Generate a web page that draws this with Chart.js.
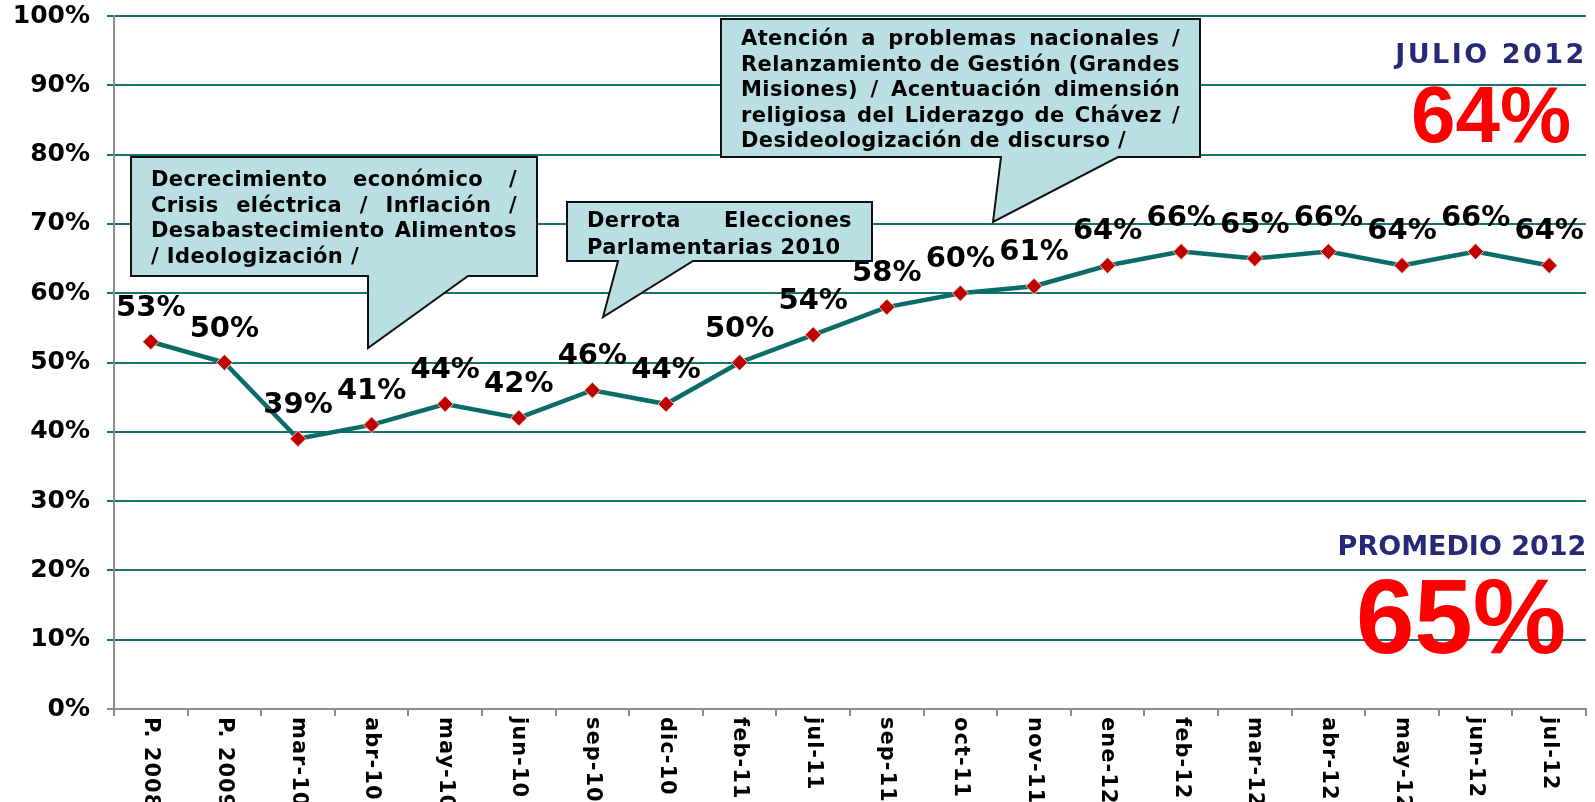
<!DOCTYPE html>
<html>
<head>
<meta charset="utf-8">
<script src="https://cdn.jsdelivr.net/npm/chart.js@4.4.0/dist/chart.umd.min.js"></script>
<style>
  html, body { margin: 0; padding: 0; background: #fff; }
  canvas { display: block; }
</style>
</head>
<body>
<canvas id="approval-chart" width="1595" height="802"></canvas>
<script>
// data
const categories = ['P. 2008', 'P. 2009', 'mar-10', 'abr-10', 'may-10', 'jun-10', 'sep-10', 'dic-10',
  'feb-11', 'jul-11', 'sep-11', 'oct-11', 'nov-11', 'ene-12', 'feb-12', 'mar-12', 'abr-12',
  'may-12', 'jun-12', 'jul-12'];
const approval = [53, 50, 39, 41, 44, 42, 46, 44, 50, 54, 58, 60, 61, 64, 66, 65, 66, 64, 66, 64];
const yTickValues = [0, 10, 20, 30, 40, 50, 60, 70, 80, 90, 100];

const julioLabel = 'JULIO 2012';
const julioValue = '64%';
const promedioLabel = 'PROMEDIO 2012';
const promedioValue = '65%';

const noteEconomia = ['Decrecimiento económico /', 'Crisis eléctrica / Inflación /',
  'Desabastecimiento Alimentos', '/ Ideologización /'];
const noteDerrota = ['Derrota Elecciones', 'Parlamentarias 2010'];
const noteGestion = ['Atención a problemas nacionales /', 'Relanzamiento de Gestión (Grandes',
  'Misiones) / Acentuación dimensión', 'religiosa del Liderazgo de Chávez /',
  'Desideologización de discurso /'];

const FONT = "'DejaVu Sans', Verdana, sans-serif";

// callout boxes (canvas pixels)
const callouts = [
  { lines: noteEconomia, box: [131, 157, 537, 276], tail: [468, 368, 348, 368],
    textLeft: 151, textRight: 517, firstBase: 186, step: 25.7 },
  { lines: noteDerrota, box: [567, 202, 872, 261], tail: [693, 603, 317, 618],
    textLeft: 587, textRight: 852, firstBase: 227, step: 26.5 },
  { lines: noteGestion, box: [721, 19, 1200, 157], tail: [1118, 993, 222, 1001],
    textLeft: 741, textRight: 1180, firstBase: 45, step: 25.5 }
];

function drawJustified(ctx, text, left, right, y, justify) {
  const words = text.split(' ');
  if (!justify || words.length < 2) {
    ctx.fillText(text, left, y);
    return;
  }
  const total = words.reduce((s, w) => s + ctx.measureText(w).width, 0);
  const gap = Math.max(5, (right - left - total) / (words.length - 1));
  let x = left;
  words.forEach(w => {
    ctx.fillText(w, x, y);
    x += ctx.measureText(w).width + gap;
  });
}

function drawCallout(ctx, c) {
  const [l, t, r, b] = c.box;
  const [baseR, tipX, tipY, baseL] = c.tail;
  ctx.save();
  ctx.beginPath();
  ctx.moveTo(l, t);
  ctx.lineTo(r, t);
  ctx.lineTo(r, b);
  ctx.lineTo(baseR, b);
  ctx.lineTo(tipX, tipY);
  ctx.lineTo(baseL, b);
  ctx.lineTo(l, b);
  ctx.closePath();
  ctx.fillStyle = '#b9dfe3';
  ctx.fill();
  ctx.lineWidth = 2;
  ctx.strokeStyle = '#111';
  ctx.stroke();

  ctx.fillStyle = '#000';
  ctx.font = 'bold 21px ' + FONT;
  ctx.letterSpacing = '0.4px';
  ctx.textAlign = 'left';
  ctx.textBaseline = 'alphabetic';
  c.lines.forEach((line, i) => {
    drawJustified(ctx, line, c.textLeft, c.textRight, c.firstBase + i * c.step, i < c.lines.length - 1);
  });
  ctx.restore();
}

const extrasPlugin = {
  id: 'extras',
  afterDatasetsDraw(chart) {
    const ctx = chart.ctx;
    const meta = chart.getDatasetMeta(0);
    ctx.save();
    ctx.fillStyle = '#000';
    ctx.font = 'bold 29px ' + FONT;
    ctx.textAlign = 'center';
    ctx.textBaseline = 'alphabetic';
    meta.data.forEach((pt, i) => {
      ctx.fillText(approval[i] + '%', pt.x, pt.y - 26);
    });
    ctx.restore();
  },
  afterDraw(chart) {
    const ctx = chart.ctx;
    const xs = chart.scales.x;

    // category labels, rotated to read top-down
    ctx.save();
    ctx.fillStyle = '#000';
    ctx.font = 'bold 21px ' + FONT;
    ctx.letterSpacing = '1px';
    ctx.textAlign = 'left';
    ctx.textBaseline = 'middle';
    categories.forEach((cat, i) => {
      const x = xs.getPixelForTick(i);
      ctx.save();
      ctx.translate(x, xs.top + 8);
      ctx.rotate(Math.PI / 2);
      ctx.fillText(cat, 0, 0);
      ctx.restore();
    });
    ctx.restore();

    callouts.forEach(c => drawCallout(ctx, c));

    // headline numbers on the right
    ctx.save();
    ctx.textAlign = 'center';
    ctx.textBaseline = 'alphabetic';
    ctx.fillStyle = '#262a76';
    ctx.font = 'bold 27px ' + FONT;
    ctx.letterSpacing = '2.5px';
    ctx.fillText(julioLabel, 1491, 63);
    ctx.letterSpacing = '0px';
    ctx.fillText(promedioLabel, 1462, 555);
    ctx.fillStyle = '#ff0000';
    ctx.font = "bold 80px 'Liberation Sans', Arial, sans-serif";
    ctx.fillText(julioValue, 1491, 142);
    ctx.font = "bold 105px 'Liberation Sans', Arial, sans-serif";
    ctx.fillText(promedioValue, 1461, 653);
    ctx.restore();
  }
};

const ctx = document.getElementById('approval-chart').getContext('2d');
const chart = new Chart(ctx, {
  type: 'line',
  data: {
    labels: categories,
    datasets: [{
      data: approval,
      borderColor: '#0b6c67',
      borderWidth: 4.5,
      tension: 0,
      pointStyle: 'rectRot',
      pointRadius: 8,
      pointBackgroundColor: '#c00000',
      pointBorderColor: '#f2c6c6',
      pointBorderWidth: 1
    }]
  },
  options: {
    responsive: false,
    animation: false,
    devicePixelRatio: 1,
    layout: { padding: { top: 16, right: 2, left: 0, bottom: 0 } },
    plugins: {
      legend: { display: false },
      tooltip: { enabled: false }
    },
    scales: {
      x: {
        offset: true,
        ticks: { display: false },
        grid: {
          offset: true,
          drawOnChartArea: false,
          drawTicks: true,
          tickLength: 7,
          color: '#8c8c8c',
          lineWidth: 2
        },
        border: { color: '#8c8c8c', width: 2 },
        afterFit(scale) {
          scale.height = 93;
          scale.paddingLeft = 0;
          scale.paddingRight = 0;
        }
      },
      y: {
        min: 0,
        max: 100,
        afterBuildTicks(scale) {
          scale.ticks = yTickValues.map(v => ({ value: v }));
        },
        ticks: {
          callback: v => v + '%',
          color: '#000',
          font: { family: FONT, size: 25, weight: 'bold' },
          padding: 17
        },
        grid: {
          color: c => (c.tick && c.tick.value === 0) ? '#8c8c8c' : '#17716d',
          lineWidth: 2,
          tickLength: 7
        },
        border: { color: '#8c8c8c', width: 2 },
        afterFit(scale) {
          scale.width = 114;
          scale.paddingTop = 0;
          scale.paddingBottom = 0;
        }
      }
    }
  },
  plugins: [extrasPlugin]
});
</script>
</body>
</html>
